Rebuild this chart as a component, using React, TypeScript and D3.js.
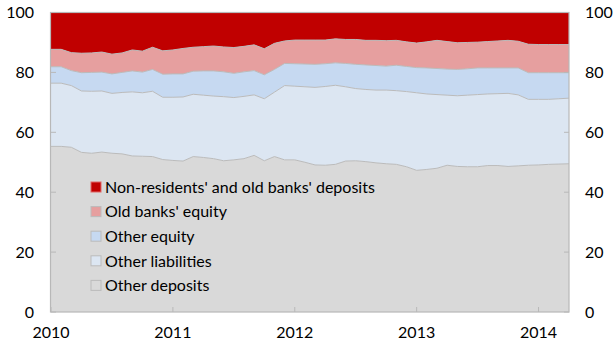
import React from "react";
import * as d3 from "d3";

const yearLabels = ["2010", "2011", "2012", "2013", "2014"];
const yTicks = [0, 20, 40, 60, 80, 100];

// Monthly shares (% of total), Jan 2010 – Apr 2014
const otherDeposits = [55.3, 55.3, 55.0, 53.3, 53.0, 53.4, 53.0, 52.8, 52.1, 52.0, 51.9, 50.9, 50.6, 50.4, 51.9, 51.6, 51.2, 50.5, 50.8, 51.2, 52.3, 50.5, 51.9, 50.8, 50.8, 50.0, 49.1, 49.0, 49.3, 50.4, 50.5, 50.2, 49.8, 49.5, 49.3, 48.5, 47.3, 47.6, 48.0, 49.0, 48.6, 48.5, 48.5, 48.9, 48.9, 48.6, 48.8, 49.0, 49.1, 49.3, 49.4, 49.5];
const otherLiabilities = [21.1, 21.1, 20.6, 20.5, 20.7, 20.4, 20.0, 20.5, 21.4, 21.2, 21.8, 20.8, 21.1, 21.4, 20.8, 20.8, 20.9, 21.4, 20.8, 20.8, 20.2, 20.7, 21.5, 24.8, 24.6, 25.2, 25.9, 26.3, 26.4, 24.8, 24.1, 24.1, 24.3, 24.6, 24.6, 25.1, 25.9, 25.2, 24.6, 23.4, 23.6, 23.9, 24.1, 23.9, 24.0, 24.4, 23.7, 22.0, 21.9, 21.7, 21.8, 21.9];
const otherEquity = [5.5, 5.5, 5.0, 6.1, 6.3, 6.3, 6.5, 6.7, 7.0, 6.9, 7.3, 7.7, 7.8, 7.7, 7.7, 8.1, 8.4, 8.3, 8.1, 8.2, 8.1, 8.0, 7.6, 7.4, 7.5, 7.6, 7.7, 7.6, 7.5, 7.8, 8.1, 8.2, 8.2, 8.0, 8.5, 8.4, 8.4, 8.7, 8.7, 8.7, 8.8, 8.8, 8.9, 8.7, 8.6, 8.5, 9.0, 8.9, 8.9, 8.9, 8.7, 8.5];
const oldBanksEquity = [5.8, 5.8, 6.0, 6.5, 6.5, 6.7, 6.6, 6.5, 7.0, 7.0, 7.4, 7.8, 8.0, 8.5, 8.0, 8.1, 8.3, 8.3, 8.6, 8.5, 8.6, 8.7, 8.7, 7.5, 7.9, 8.0, 8.1, 7.9, 8.0, 8.0, 8.3, 8.2, 8.4, 8.5, 8.3, 8.2, 8.2, 8.7, 9.4, 9.2, 8.9, 8.8, 8.6, 8.8, 9.0, 9.2, 8.9, 9.5, 9.4, 9.4, 9.4, 9.4];
const nonResidents = [12.3, 12.3, 13.4, 13.6, 13.5, 13.2, 13.9, 13.5, 12.5, 12.9, 11.6, 12.8, 12.5, 12.0, 11.6, 11.4, 11.2, 11.5, 11.7, 11.3, 10.8, 12.1, 10.3, 9.5, 9.2, 9.2, 9.2, 9.2, 8.8, 9.0, 9.0, 9.3, 9.3, 9.4, 9.3, 9.8, 10.2, 9.8, 9.3, 9.7, 10.1, 10.0, 9.9, 9.7, 9.5, 9.3, 9.6, 10.6, 10.7, 10.7, 10.7, 10.7];

const seriesNames = ["Other deposits", "Other liabilities", "Other equity", "Old banks' equity", "Non-residents' and old banks' deposits"];
const seriesColors = ["#D9D9D9", "#DCE6F2", "#C6D9F1", "#E69F9F", "#C00000"];
const seriesData = [otherDeposits, otherLiabilities, otherEquity, oldBanksEquity, nonResidents];

const W = 613, H = 343;
const L = 51, R = 569, T = 12.5, B = 312;
const FONT = "Lato, 'Open Sans', sans-serif";
const FS = 16;

export default function App() {
  const n = otherDeposits.length;
  const rows = d3.range(n).map((i) => {
    const r: any = { i };
    seriesNames.forEach((k, s) => (r[k] = seriesData[s][i]));
    return r;
  });
  const stacked = d3.stack<any>().keys(seriesNames)(rows);
  const x = d3.scaleLinear().domain([0, n - 1]).range([L, R]);
  const y = d3.scaleLinear().domain([0, 100]).range([B, T]);
  const area = d3.area<any>().x((d) => x(d.data.i)).y0((d) => y(d[0])).y1((d) => y(d[1]));
  const line = d3.line<any>().x((d) => x(d.data.i)).y((d) => y(d[1]));

  const legendOrder = [4, 3, 2, 1, 0];

  return (
    <svg width={W} height={H} style={{ position: "absolute", left: 0, top: 0, background: "#fff" }} fontFamily={FONT}>
      {stacked.map((s, k) => (
        <path key={"a" + k} d={area(s) || ""} fill={seriesColors[k]} />
      ))}
      {stacked.slice(0, 4).map((s, k) => (
        <path key={"l" + k} d={line(s) || ""} fill="none" stroke="#BBBBBB" strokeWidth={1} />
      ))}
      {/* frame */}
      <rect x={L - 0.5} y={T} width={R - L + 0.5} height={B - T} fill="none" stroke="#B8B8B8" strokeWidth={1.2} />
      {/* y ticks */}
      {yTicks.map((t) => (
        <g key={"yt" + t}>
          <line x1={L} x2={L + 5} y1={y(t)} y2={y(t)} stroke="#B8B8B8" />
          <line x1={R - 5} x2={R} y1={y(t)} y2={y(t)} stroke="#B8B8B8" />
          <text x={34} y={y(t)} dy="0.36em" textAnchor="end" fontSize={FS} fill="#000">{t}</text>
          <text x={585} y={y(t)} dy="0.36em" textAnchor="start" fontSize={FS} fill="#000">{t}</text>
        </g>
      ))}
      {/* x ticks */}
      {yearLabels.map((lab, j) => (
        <g key={"xt" + lab}>
          <line x1={x(j * 12)} x2={x(j * 12)} y1={B} y2={B - 5} stroke="#B8B8B8" />
          <text x={x(j * 12)} y={338} textAnchor="middle" fontSize={FS} fill="#000">{lab}</text>
        </g>
      ))}
      {/* legend */}
      {legendOrder.map((s, r) => {
        const cy = 187 + r * 24.6;
        return (
          <g key={"lg" + s}>
            <rect x={91} y={cy - 5} width={10} height={10} fill={seriesColors[s]} stroke={s === 4 ? "#E06666" : "#BBBBBB"} strokeWidth={1} />
            <text x={105} y={cy} dy="0.36em" fontSize={FS} fill="#000">{seriesNames[s]}</text>
          </g>
        );
      })}
    </svg>
  );
}
